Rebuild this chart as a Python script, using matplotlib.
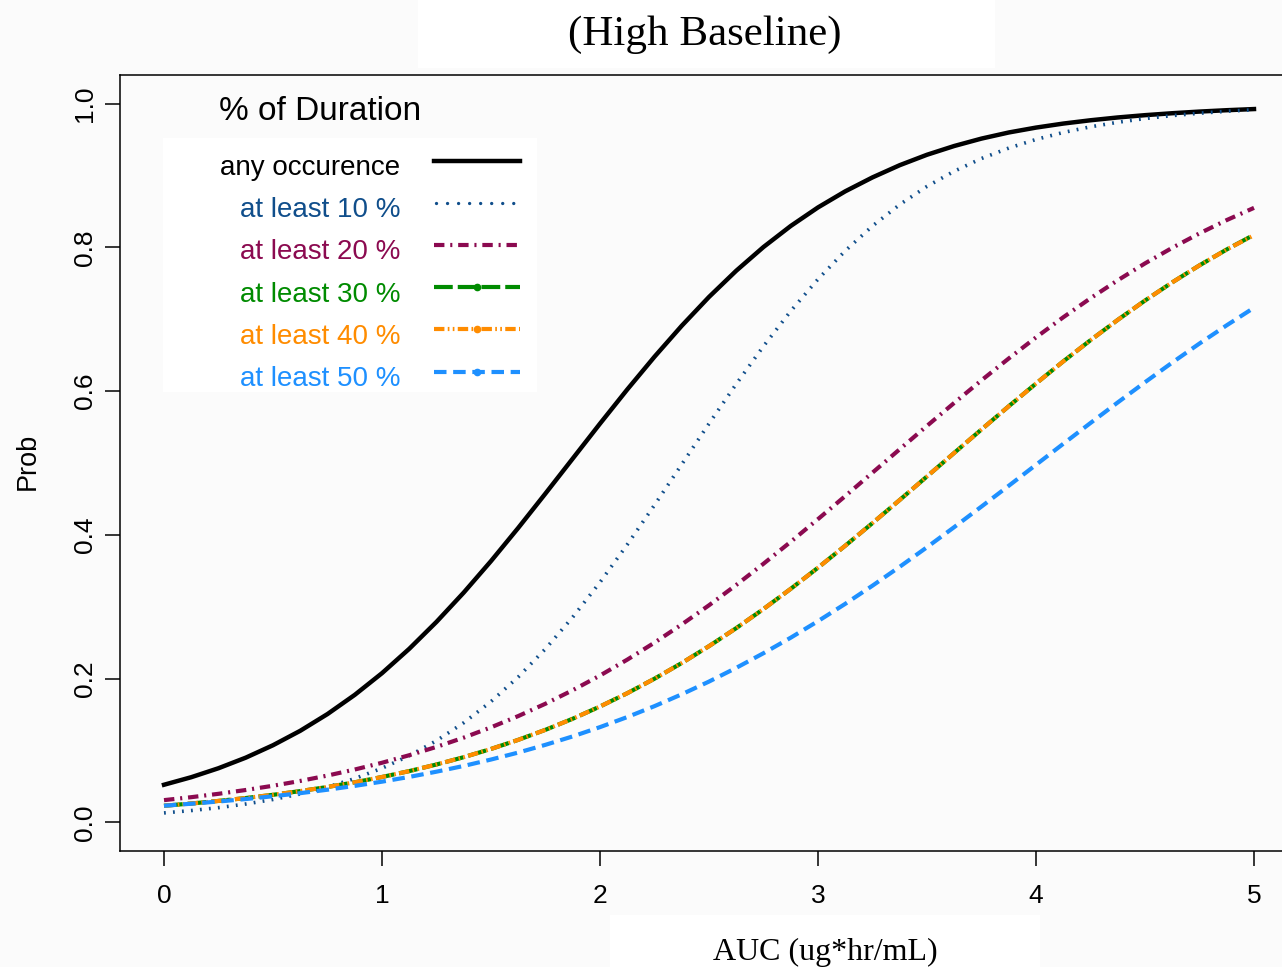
import matplotlib.pyplot as plt
from matplotlib.lines import Line2D
from matplotlib.patches import Rectangle

W, H = 1282, 967
plt.rcParams['font.family'] = ['Liberation Sans', 'DejaVu Sans']

# predicted probability vs exposure, read every 0.125 AUC units
auc = [0.0, 0.125, 0.25, 0.375, 0.5, 0.625, 0.75, 0.875, 1.0, 1.125,
       1.25, 1.375, 1.5, 1.625, 1.75, 1.875, 2.0, 2.125, 2.25, 2.375,
       2.5, 2.625, 2.75, 2.875, 3.0, 3.125, 3.25, 3.375, 3.5, 3.625,
       3.75, 3.875, 4.0, 4.125, 4.25, 4.375, 4.5, 4.625, 4.75, 4.875, 5.0]
p_any = [0.0522, 0.0627, 0.0752, 0.0899, 0.1072, 0.1273, 0.1506, 0.1773, 0.2075, 0.2414,
         0.2789, 0.3197, 0.3635, 0.4097, 0.4576, 0.5062, 0.5548, 0.6023, 0.6479, 0.6910,
         0.7311, 0.7676, 0.8006, 0.8299, 0.8557, 0.8781, 0.8975, 0.9145, 0.9290, 0.9412,
         0.9515, 0.9600, 0.9668, 0.9724, 0.9770, 0.9809, 0.9841, 0.9868, 0.9891, 0.9910, 0.9926]
p_10 = [0.0130, 0.0163, 0.0203, 0.0254, 0.0317, 0.0394, 0.0490, 0.0608, 0.0752, 0.0926,
        0.1135, 0.1385, 0.1680, 0.2022, 0.2414, 0.2855, 0.3340, 0.3864, 0.4415, 0.4981,
        0.5548, 0.6100, 0.6626, 0.7115, 0.7558, 0.7953, 0.8299, 0.8597, 0.8850, 0.9061,
        0.9238, 0.9383, 0.9503, 0.9600, 0.9679, 0.9742, 0.9794, 0.9835, 0.9868, 0.9895, 0.9916]
p_20 = [0.0308, 0.0349, 0.0396, 0.0449, 0.0508, 0.0575, 0.0650, 0.0734, 0.0828, 0.0933,
        0.1049, 0.1178, 0.1321, 0.1478, 0.1650, 0.1838, 0.2042, 0.2263, 0.2500, 0.2753,
        0.3020, 0.3303, 0.3598, 0.3904, 0.4219, 0.4540, 0.4866, 0.5192, 0.5517, 0.5837,
        0.6151, 0.6455, 0.6748, 0.7028, 0.7293, 0.7543, 0.7778, 0.7995, 0.8196, 0.8381, 0.8551]
p_30 = [0.0230, 0.0261, 0.0297, 0.0337, 0.0382, 0.0434, 0.0491, 0.0556, 0.0630, 0.0712,
        0.0804, 0.0906, 0.1020, 0.1147, 0.1287, 0.1441, 0.1611, 0.1796, 0.1998, 0.2216,
        0.2451, 0.2702, 0.2968, 0.3249, 0.3543, 0.3849, 0.4164, 0.4486, 0.4813, 0.5141,
        0.5467, 0.5790, 0.6106, 0.6414, 0.6709, 0.6992, 0.7261, 0.7514, 0.7751, 0.7972, 0.8176]
p_40 = [0.0230, 0.0261, 0.0297, 0.0337, 0.0382, 0.0434, 0.0491, 0.0556, 0.0630, 0.0712,
        0.0804, 0.0906, 0.1020, 0.1147, 0.1287, 0.1441, 0.1611, 0.1796, 0.1998, 0.2216,
        0.2451, 0.2702, 0.2968, 0.3249, 0.3543, 0.3849, 0.4164, 0.4486, 0.4813, 0.5141,
        0.5467, 0.5790, 0.6106, 0.6414, 0.6709, 0.6992, 0.7261, 0.7514, 0.7751, 0.7972, 0.8170]
p_50 = [0.0230, 0.0258, 0.0289, 0.0323, 0.0362, 0.0405, 0.0453, 0.0506, 0.0565, 0.0631,
        0.0704, 0.0784, 0.0873, 0.0970, 0.1078, 0.1195, 0.1324, 0.1464, 0.1616, 0.1781,
        0.1958, 0.2149, 0.2353, 0.2569, 0.2799, 0.3040, 0.3293, 0.3556, 0.3828, 0.4108,
        0.4394, 0.4683, 0.4975, 0.5267, 0.5557, 0.5843, 0.6124, 0.6398, 0.6663, 0.6917, 0.7161]

labels = ['any occurence', 'at least 10 %', 'at least 20 %',
          'at least 30 %', 'at least 40 %', 'at least 50 %']
colors = ['black', '#104E8B', '#8B0A50', '#008B00', '#FF8C00', '#1E90FF']
styles = ['-', (0, (0.5, 2.0)), (0, (2.5, 1.4, 0.5, 1.4)), (0, (4.5, 1.2)),
          (0, (2.5, 0.8, 0.4, 0.8, 0.4, 0.8)), (0, (3.0, 1.6))]
widths = [3.2, 2.6, 3.0, 3.0, 3.0, 3.0]
has_pt = [False, False, False, True, True, True]
curves = [p_any, p_10, p_20, p_30, p_40, p_50]


def fx(px):
    return px / W


def fy(py):
    return 1 - py / H


fig = plt.figure(figsize=(W / 100, H / 100), dpi=100, facecolor='#fbfbfb')
ax = fig.add_axes([fx(120.4), fy(851), (1297.6 - 120.4) / W, 776 / H])
ax.set_facecolor('#fbfbfb')

for vals, c, ls, lw in zip(curves, colors, styles, widths):
    ax.plot(auc, vals, color=c, linestyle=ls, lw=lw, dash_capstyle='butt')

ax.set_xlim(-0.2, 5.2)
ax.set_ylim(-0.04, 1.04)
ax.set_xticks([0, 1, 2, 3, 4, 5])
ax.set_yticks([0, 0.2, 0.4, 0.6, 0.8, 1.0])
ax.set_yticklabels(['0.0', '0.2', '0.4', '0.6', '0.8', '1.0'], rotation=90, va='center')
ax.tick_params(length=11, width=1.1, labelsize=19, color='black')
ax.tick_params(axis='x', pad=13)
ax.tick_params(axis='y', pad=6)
for s in ax.spines.values():
    s.set_linewidth(1.1)

# white panels behind the title, x label and legend
for x0, y0, x1, y1 in [(418, 0, 995, 68), (610, 915, 1040, 967), (163, 138, 537, 392)]:
    fig.patches.append(Rectangle((fx(x0), fy(y1)), (x1 - x0) / W, (y1 - y0) / H,
                                 transform=fig.transFigure, facecolor='white',
                                 edgecolor='none', zorder=1))

fig.text(fx(705), fy(45), '(High Baseline)', family='Liberation Serif',
         fontsize=31, ha='center', va='baseline')
fig.text(fx(825), fy(960), 'AUC (ug*hr/mL)', family='Liberation Serif',
         fontsize=23, ha='center', va='baseline')
fig.text(fx(28), fy(461), 'Prob', fontsize=19.5, rotation=90, ha='center', va='center')

# legend
fig.text(fx(320), fy(120), '% of Duration', fontsize=24, ha='center', va='baseline')
for i, (lab, c, ls, lw, pt) in enumerate(zip(labels, colors, styles, widths, has_pt)):
    ly = 160.5 + 42.2 * i
    fig.text(fx(400), fy(ly + 14.5), lab, color=c, fontsize=20, ha='right', va='baseline')
    if i == 1:
        # round dots read better than ticks in the short key sample
        seg = Line2D([fx(436), fx(518)], [fy(ly), fy(ly)], transform=fig.transFigure,
                     color=c, lw=2.4, linestyle=(0, (0.01, 3.3)),
                     dash_capstyle='round', zorder=2)
    else:
        seg = Line2D([fx(434), fx(520)], [fy(ly), fy(ly)], transform=fig.transFigure,
                     color=c, linestyle=ls, lw=lw, dash_capstyle='butt', zorder=2)
    fig.lines.append(seg)
    if pt:
        fig.lines.append(Line2D([fx(477)], [fy(ly)], transform=fig.transFigure, color=c,
                                marker='o', markersize=4.5, linestyle='none', zorder=2))

fig.savefig('out.png', dpi=100, facecolor=fig.get_facecolor())
